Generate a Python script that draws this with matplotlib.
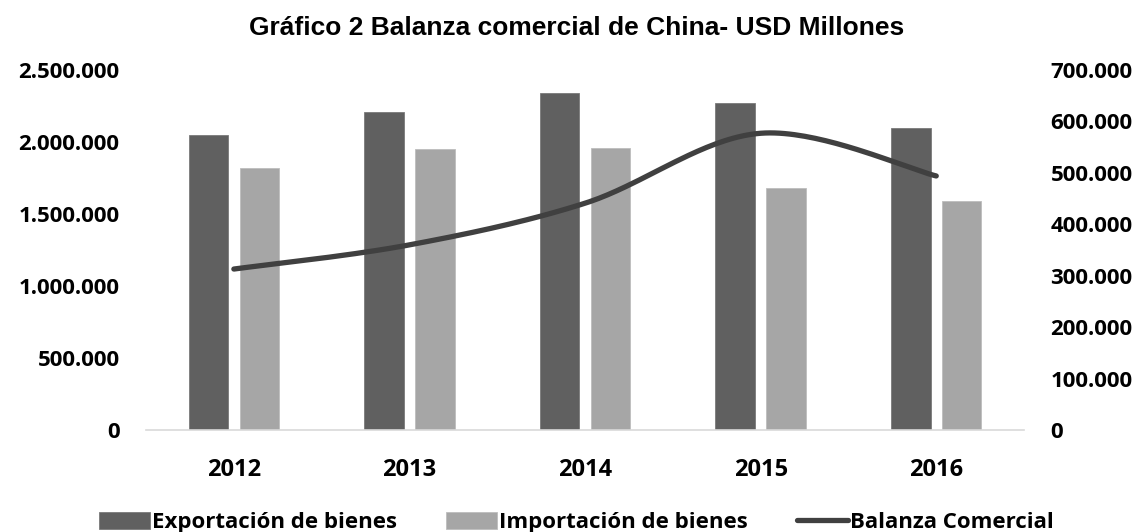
import numpy as np
import matplotlib.pyplot as plt
from matplotlib.ticker import FuncFormatter

years = ["2012", "2013", "2014", "2015", "2016"]
exportaciones = [2049000, 2209000, 2342000, 2273000, 2098000]
importaciones = [1818000, 1950000, 1959000, 1680000, 1588000]
balanza = [313000, 360000, 441000, 577000, 494000]

dark = "#606060"
light = "#a6a6a6"
line_c = "#404040"
lbl_font = "Open Sans"


def miles(v, pos):
    return "{:,.0f}".format(v).replace(",", ".")


def smooth(xs, ys, n=40):
    # catmull-rom, like excel's smoothed line
    px = np.r_[xs[0], xs, xs[-1]]
    py = np.r_[ys[0], ys, ys[-1]]
    ox, oy = [], []
    t = np.linspace(0, 1, n)
    for i in range(1, len(px) - 2):
        for p, out in ((px, ox), (py, oy)):
            p0, p1, p2, p3 = p[i - 1], p[i], p[i + 1], p[i + 2]
            out.extend(0.5 * ((2 * p1) + (-p0 + p2) * t
                              + (2 * p0 - 5 * p1 + 4 * p2 - p3) * t ** 2
                              + (-p0 + 3 * p1 - 3 * p2 + p3) * t ** 3))
    return np.array(ox), np.array(oy)


fig = plt.figure(figsize=(11.41, 5.32), dpi=100)
ax = fig.add_axes([0.128, 0.1917, 0.7695, 0.6767])
ax2 = ax.twinx()

x = np.arange(len(years))
w = 0.225
b1 = ax.bar(x - 0.145, exportaciones, w, color=dark, edgecolor="#7a7a7a", linewidth=0.6,
            label="Exportación de bienes")
b2 = ax.bar(x + 0.145, importaciones, w, color=light, edgecolor="#bdbdbd", linewidth=0.6,
            label="Importación de bienes")

sx, sy = smooth(x.astype(float), np.array(balanza, dtype=float))
ln, = ax2.plot(sx, sy, color=line_c, lw=3.8, solid_capstyle="round",
               label="Balanza Comercial")

ax.set_xlim(-0.5, len(years) - 0.5)
ax.set_ylim(0, 2500000)
ax2.set_ylim(0, 700000)
ax.set_yticks(np.arange(0, 2500001, 500000))
ax2.set_yticks(np.arange(0, 700001, 100000))
ax.yaxis.set_major_formatter(FuncFormatter(miles))
ax2.yaxis.set_major_formatter(FuncFormatter(miles))
ax.set_xticks(x)
ax.set_xticklabels(years)

for a in (ax, ax2):
    for s in a.spines.values():
        s.set_visible(False)
    a.tick_params(length=0)
ax.spines["bottom"].set_visible(True)
ax.spines["bottom"].set_color("#d9d9d9")
ax.spines["bottom"].set_linewidth(1.2)

ax.tick_params(axis="y", pad=19)
ax2.tick_params(axis="y", pad=19)
ax.tick_params(axis="x", pad=20)
for lab in ax.get_yticklabels() + ax2.get_yticklabels():
    lab.set_fontfamily(lbl_font)
    lab.set_fontweight("bold")
    lab.set_fontsize(16)
for lab in ax.get_xticklabels():
    lab.set_fontfamily(lbl_font)
    lab.set_fontweight("bold")
    lab.set_fontsize(17)

fig.text(0.505, 0.947, "Gráfico 2 Balanza comercial de China- USD Millones",
         ha="center", va="center", fontsize=19, fontweight="bold",
         family="Liberation Sans")

fig.legend([b1, b2, ln], [b1.get_label(), b2.get_label(), ln.get_label()],
           loc="center", bbox_to_anchor=(0.505, 0.018), ncol=3, frameon=False,
           prop={"family": lbl_font, "weight": "bold", "size": 16},
           handlelength=2.3, handleheight=0.8, handletextpad=0.1,
           columnspacing=2.2, borderpad=0)

fig.savefig("out.png", dpi=100)
